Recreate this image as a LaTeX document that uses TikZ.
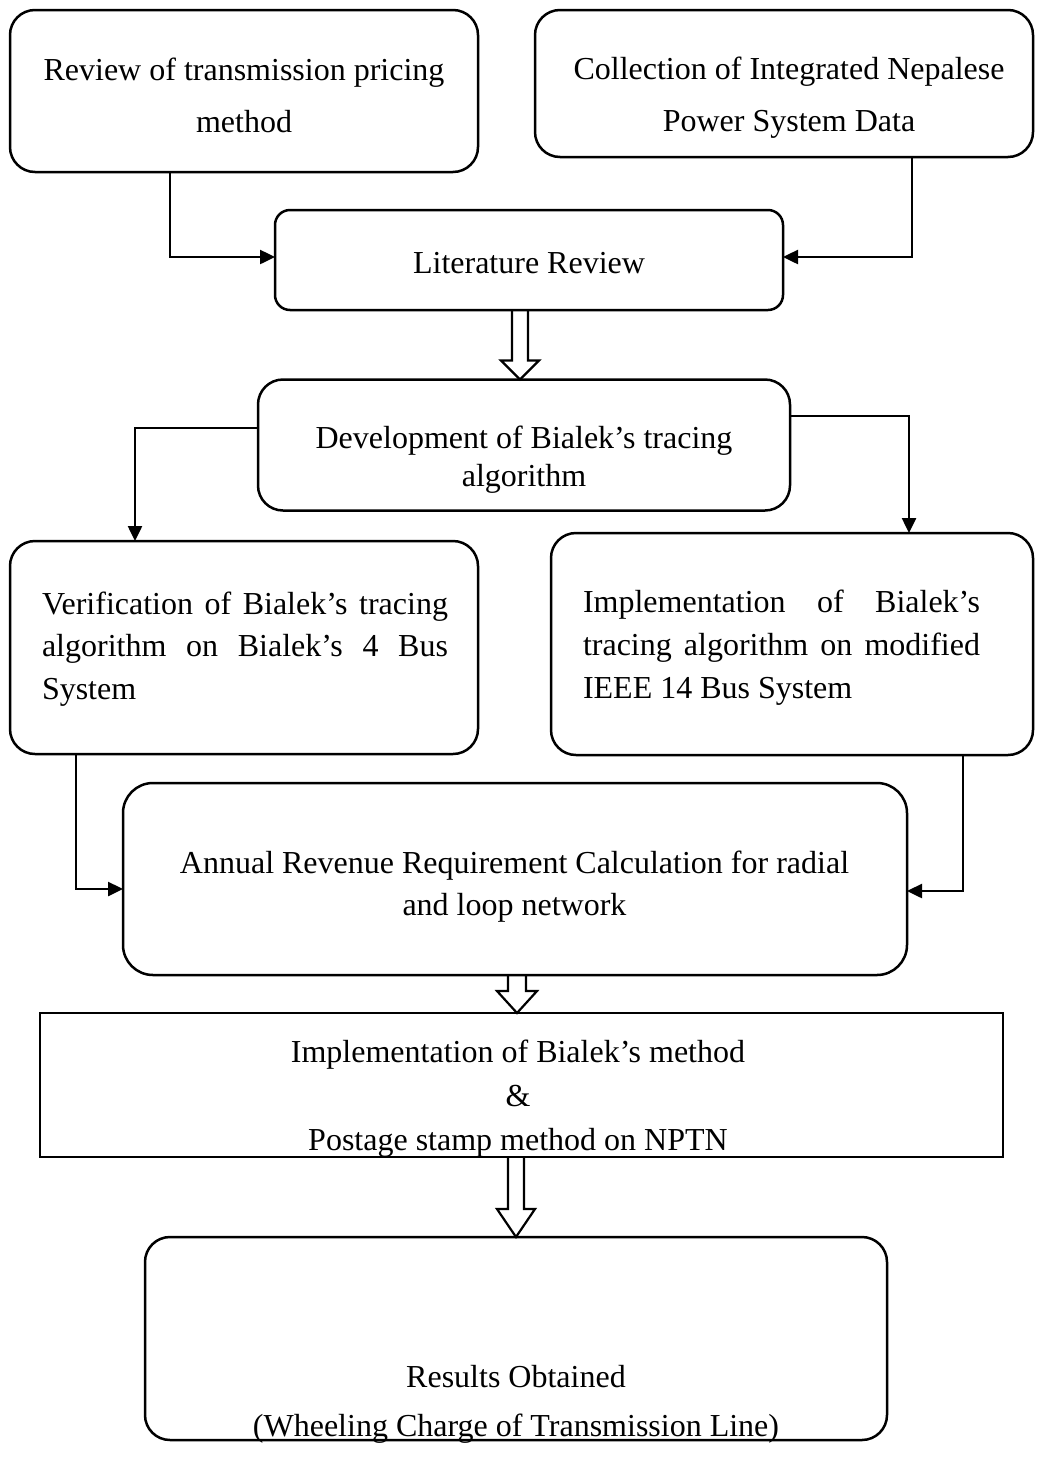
\documentclass[tikz,border=0pt]{standalone}
\usepackage{fontspec}
\setmainfont{Liberation Serif}
\usetikzlibrary{arrows.meta,calc}
\tikzset{
  box/.style={draw, line width=2.5pt, inner sep=0pt, outer sep=0pt, rounded corners=#1},
  box/.default=25pt,
  sqbox/.style={draw, line width=2.5pt, inner sep=0pt, outer sep=0pt},
  txt/.style={inner sep=0pt, outer sep=0pt, align=center},
  conn/.style={line width=2.5pt, -{Triangle[length=15pt,width=14pt]}},
  hollow/.style={line width=2.2pt, line join=miter}
}
\newcommand{\fs}[1]{\fontsize{32}{#1}\selectfont}
\begin{document}
\begin{tikzpicture}[x=1pt,y=-1pt]
\useasboundingbox (0,0) rectangle (1039,1473);
% boxes
\node[box, minimum width=468pt, minimum height=162pt] (A) at (244,91) {};
\node[box, minimum width=498pt, minimum height=147pt] (B) at (784,83.5) {};
\node[box=15pt, minimum width=508pt, minimum height=100pt] (C) at (529,260) {};
\node[box, minimum width=532pt, minimum height=131pt] (D) at (524,445) {};
\node[box, minimum width=468pt, minimum height=213pt] (E) at (244,647.5) {};
\node[box, minimum width=482pt, minimum height=222pt] (F) at (792,644) {};
\node[box=30pt, minimum width=784pt, minimum height=192pt] (G) at (515,879) {};
\node[sqbox, minimum width=963pt, minimum height=144pt] (H) at (521.5,1085) {};
\node[box, minimum width=742pt, minimum height=203pt] (I) at (516,1338.5) {};
% texts
\node[txt, font=\fs{52}] (At) at (244,95) {Review of transmission pricing\\method};
\node[txt, font=\fs{52}] (Bt) at (789,98) {Collection of Integrated Nepalese\\Power System Data};
\node[txt, font=\fs{40}] (Ct) at (529,263) {Literature Review};
\node[txt, font=\fs{38}] (Dt) at (524,460) {Development of Bialek’s tracing\\algorithm};
\node[txt, font=\fs{42.5}, align=left] (Et) at (245,649) {\makebox[406pt][s]{Verification of Bialek’s tracing}\\\makebox[406pt][s]{algorithm on Bialek’s 4 Bus}\\System};
\node[txt, font=\fs{43}, align=left] (Ft) at (781.5,648) {\makebox[397pt][s]{Implementation of Bialek’s}\\\makebox[397pt][s]{tracing algorithm on modified}\\IEEE 14 Bus System};
\node[txt, font=\fs{42}] (Gt) at (514.5,887) {Annual Revenue Requirement Calculation for radial\\and loop network};
\node[txt, font=\fs{44}] (Ht) at (518,1099) {Implementation of Bialek’s method\\\&\\Postage stamp method on NPTN};
\node[txt, font=\fs{49}] (It) at (516,1404) {Results Obtained\\(Wheeling Charge of Transmission Line)};
% connectors
\draw[conn] ([xshift=-74pt]A.south) |- ([yshift=3pt]C.west);
\draw[conn] ([xshift=128pt]B.south) |- ([yshift=3pt]C.east);
\draw[conn] ([yshift=17pt]D.west) -| ([xshift=-109pt]E.north);
\draw[conn] ([yshift=29pt]D.east) -| ([xshift=117pt]F.north);
\draw[conn] ([xshift=-168pt]E.south) |- ([yshift=-10pt]G.west);
\draw[conn] ([xshift=171pt]F.south) |- ([yshift=-12pt]G.east);
% hollow arrows
\draw[hollow] let \p1=(C.south), \p2=(D.north) in
  (512pt,\y1) -- (512pt,\y2+19pt) -- (501pt,\y2+19pt) -- (520pt,\y2) -- (539pt,\y2+19pt) -- (528pt,\y2+19pt) -- (528pt,\y1);
\draw[hollow] let \p1=(G.south), \p2=(H.north) in
  (508pt,\y1) -- (508pt,\y2+22pt) -- (497pt,\y2+22pt) -- (517pt,\y2) -- (537pt,\y2+22pt) -- (526pt,\y2+22pt) -- (526pt,\y1);
\draw[hollow] let \p1=(H.south), \p2=(I.north) in
  (508pt,\y1) -- (508pt,\y2+28pt) -- (497pt,\y2+28pt) -- (516pt,\y2) -- (535pt,\y2+28pt) -- (524pt,\y2+28pt) -- (524pt,\y1);
\end{tikzpicture}
\end{document}
